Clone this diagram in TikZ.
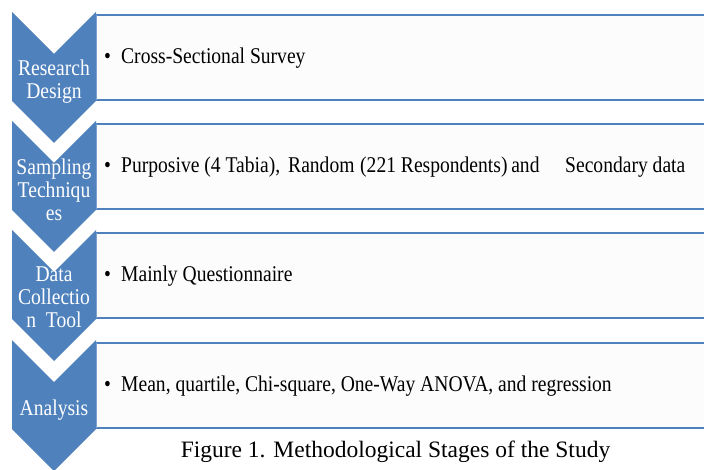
\documentclass[tikz,border=0pt]{standalone}
\usepackage{fontspec}
\setmainfont{Liberation Serif}
\newfontfamily\diagfont[FakeStretch=0.87]{Liberation Serif}
\definecolor{accent}{HTML}{4F81BD}
\definecolor{boxfill}{HTML}{FCFCFC}
\tikzset{
  chev/.style={fill=accent, draw=none},
  boxfillst/.style={fill=boxfill, draw=none},
  boxline/.style={draw=accent, line width=2.6pt},
  boxleft/.style={draw=accent!70, line width=1.2pt},
  chevlabel/.style={text=white, font=\diagfont\fontsize{22.5}{23}\selectfont, align=center, inner sep=0pt, anchor=north},
  itemtext/.style={text=black, font=\diagfont\fontsize{22.5}{26}\selectfont, inner sep=0pt, anchor=base west},
  captext/.style={text=black, font=\fontsize{23.5}{28}\selectfont, inner sep=0pt, anchor=base}
}
\newcommand{\bul}{\makebox[17pt][l]{\textbullet}}
\begin{document}
\begin{tikzpicture}[x=1pt,y=-1pt]
\useasboundingbox (0,0) rectangle (704,470);
\fill[white] (0,0) rectangle (704,470);
% boxes: top, bottom
\foreach \t in {15,124,233,343}{
  \path[boxfillst] (96,\t) rectangle (704,\t+85);
  \draw[boxline] (96,\t) -- (706,\t);
  \draw[boxline] (96,\t+85) -- (706,\t+85);
  \draw[boxleft] (96.5,\t) -- (96.5,\t+85);
}
% chevrons
\foreach \t in {12,121,230,340}{
  \path[chev] (12,\t) -- (54,\t+42) -- (96,\t) -- (96,\t+89) -- (54,\t+131) -- (12,\t+89) -- cycle;
}
% chevron labels
\node[chevlabel] (c1) at (54,60) {Research\\Design};
\node[chevlabel] (c2) at (54,159) {Sampling\\Techniqu\\es};
\node[chevlabel] (c3) at (54,267) {Data\\Collectio\\n\ \ Tool};
\node[chevlabel] (c4) at (54,400) {Analysis};
% item texts
\node[itemtext] (t1) at (104,64) {\bul Cross-Sectional Survey};
\node[itemtext] (t2) at (104,173) {\bul\makebox[167pt][l]{Purposive (4 Tabia),}\makebox[72pt][l]{Random}\makebox[205pt][l]{(221 Respondents)\,and}Secondary data};
\node[itemtext] (t3) at (104,282) {\bul Mainly Questionnaire};
\node[itemtext] (t4) at (104,391) {\bul Mean, quartile, Chi-square, One-Way ANOVA, and regression};
% caption
\node[captext] (cap) at (395.5,457) {Figure 1. Methodological Stages of the Study};
\end{tikzpicture}
\end{document}
